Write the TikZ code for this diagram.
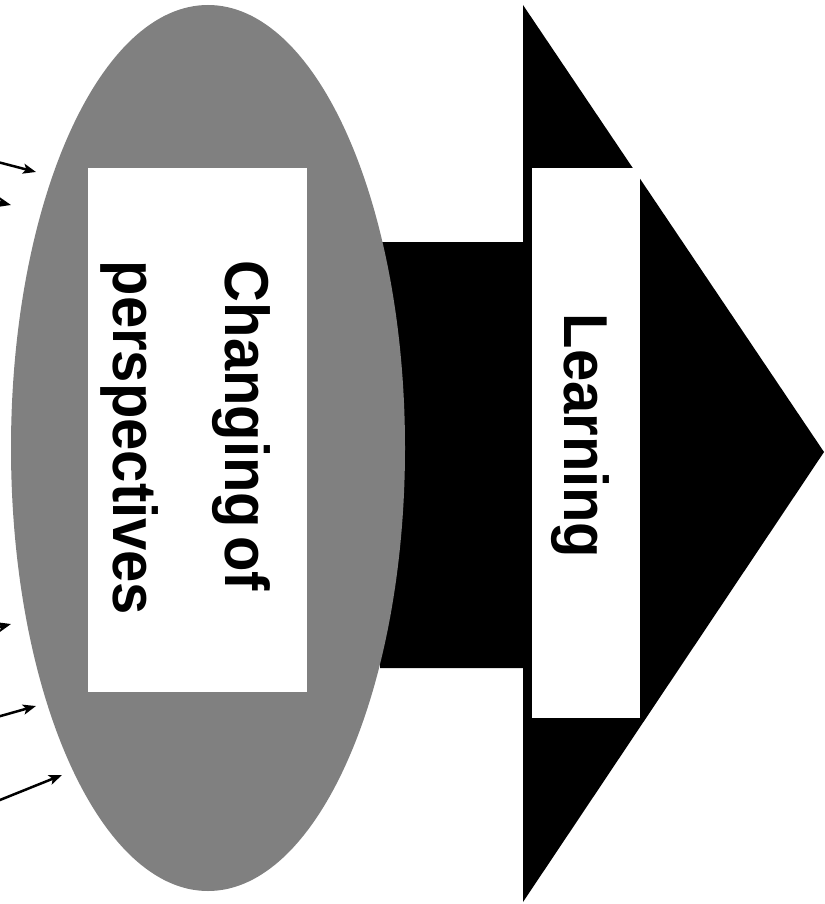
\documentclass[tikz,border=0pt]{standalone}
\usepackage{fontspec}
\setmainfont{Liberation Sans}
\newfontfamily\labelfont[FakeStretch=0.935, WordSpace=0.5]{Liberation Sans}
\usepackage{tikz}
\usetikzlibrary{arrows.meta}

\tikzset{
	label/.style={rotate=-90, inner sep=0pt, font=\labelfont\bfseries\fontsize{62}{112}\selectfont},
	influence/.style={line width=2.5pt, -{Stealth[length=13pt,width=10pt,inset=3pt]}},
	panel/.style={fill=white}
}

\begin{document}
\begin{tikzpicture}[x=1pt, y=-1pt]
			\useasboundingbox (0,0) rectangle (824,904);
			% big arrow behind the ellipse
			\fill[black] (380,242) -- (523,242) -- (523,5) -- (824,452) -- (523,902) -- (523,668) -- (380,668) -- cycle;
			\fill[black!50] (208,448) ellipse [x radius=197pt, y radius=443pt];
			\fill[panel] (88,168) rectangle (307,692);
			\fill[panel] (532,168) rectangle (640,718);
			\node[label, align=left](change) at (186,438) {Changing of\\perspectives};
			\node[label](learn) at (580,436) {Learning};
			% incoming arrows
			\coordinate (a1) at (36,172);
			\coordinate (a2) at (11,205);
			\coordinate (a3) at (11,624);
			\coordinate (a4) at (36,706);
			\coordinate (a5) at (62,775);
			\draw[influence] (-10,160) -- (a1);
			\draw[influence] (-40,193) -- (a2);
			\draw[influence] (-40,637) -- (a3);
			\draw[influence] (-10,719) -- (a4);
			\draw[influence] (-10,804) -- (a5);
		\end{tikzpicture}
\end{document}
